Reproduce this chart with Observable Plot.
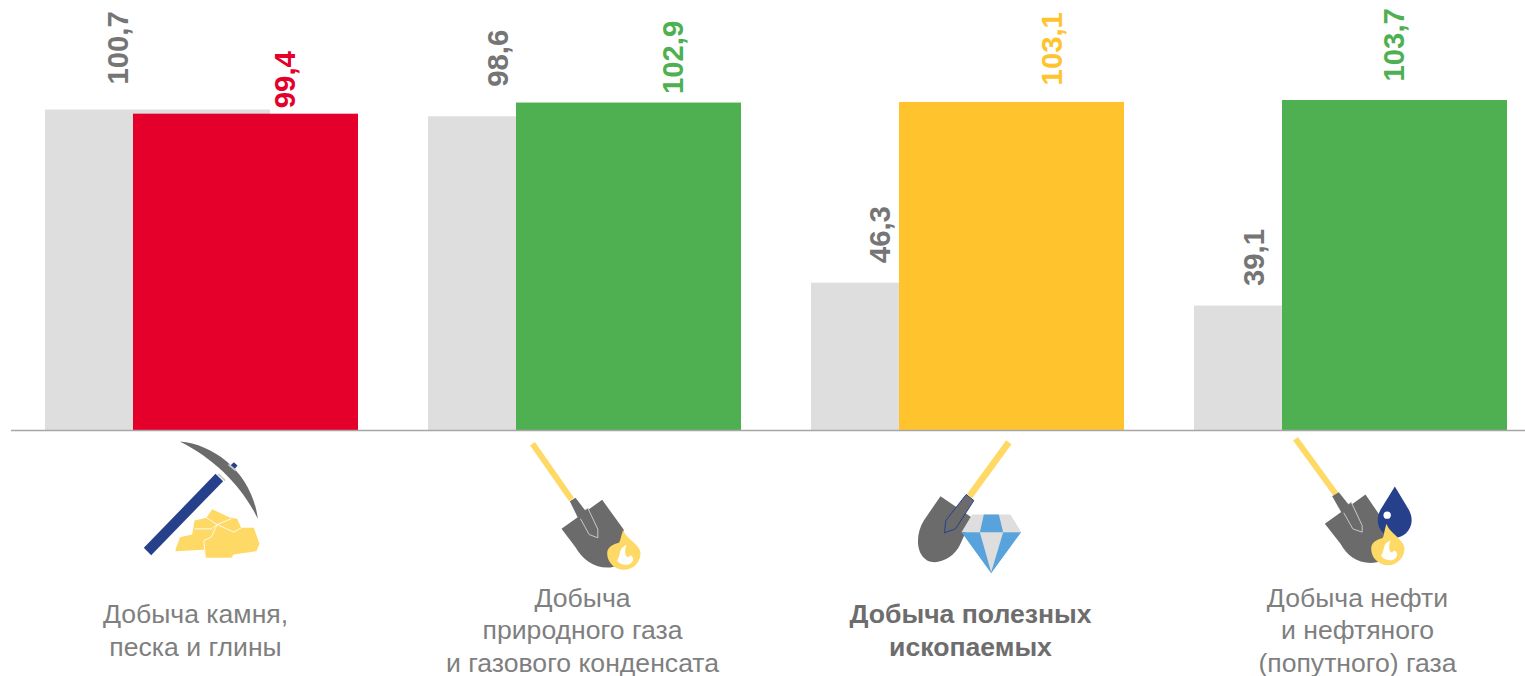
<!DOCTYPE html>
<html lang="ru">
<head>
<meta charset="utf-8">
<style>html,body{margin:0;padding:0;background:#fff}svg{display:block}</style>
<script src="https://cdn.jsdelivr.net/npm/d3@7"></script>
<script src="https://cdn.jsdelivr.net/npm/@observablehq/plot@0.6"></script>
</head>
<body>
<div id="chart"></div>
<script>
const categories = ["Добыча камня,\nпеска и глины","Добыча\nприродного газа\nи газового конденсата","Добыча полезных\nископаемых","Добыча нефти\nи нефтяного\n(попутного) газа"];
const previous = [100.7, 98.6, 46.3, 39.1];
const current = [99.4, 102.9, 103.1, 103.7];
const previousLabels = ["100,7","98,6","46,3","39,1"];
const currentLabels = ["99,4","102,9","103,1","103,7"];

const GRAY="#dedede", RED="#e4002b", GREEN="#4fb052", AMBER="#ffc32e", TXT="#7f7f7f", DARK="#757575";
const currentColors=[RED,GREEN,AMBER,GREEN];
const previousRows=categories.map((c,i)=>({c,v:previous[i],t:previousLabels[i]}));
const currentRows=categories.map((c,i)=>({c,v:current[i],t:currentLabels[i],f:currentColors[i]}));

// hand placement of the reference's labels (horizontal offset from group centre, gap above bar)
const prevNudge=[[-84,25.5],[-87.5,30],[-88.5,20],[-97.5,20]];
const currNudge=[[82.5,6],[87.5,9],[83.5,17],[42.5,19]];
const catDx=[-7.5,-3.5,1.5,5.5];
const iconDx=[-2.5,4.5,11.5,8.5];

const Y="#ffd966",B="#27408b",S="#6b6b6b",W="#fff",L="#58a3db",E="#dedede";
const wrap=(h,body)=>"data:image/svg+xml,"+encodeURIComponent(`<svg xmlns="http://www.w3.org/2000/svg" viewBox="0 0 480 ${h}" width="160" height="${h/3}">${body}</svg>`);
const flame=(cx,cy,r,tx,ty)=>`<path fill="${Y}" d="M${tx} ${ty}C${tx+6} ${ty+25} ${cx+r} ${cy-25} ${cx+r} ${cy}A${r} ${r} 0 1 1 ${cx-r} ${cy}C${cx-r} ${cy-22} ${cx-25} ${cy-28} ${cx-20} ${cy-30}C${cx-10} ${cy-30} ${tx-10} ${ty+30} ${tx} ${ty}Z"/><path fill="${W}" d="M${cx+8} ${cy-25}C${cx-18} ${cy-12} ${cx-8} ${cy+2} ${cx-20} ${cy+22}C${cx-12} ${cy+38} ${cx+22} ${cy+42} ${cx+28} ${cy+20}C${cx+28} ${cy+8} ${cx+18} ${cy+2} ${cx+14} ${cy+12}C${cx+2} ${cy+12} ${cx+2} ${cy-8} ${cx+8} ${cy-25}Z"/>`;
const icons=[
 wrap(420,`<path fill="${B}" d="M70 352L92 374L308 152L285 130Z"/><path fill="${B}" d="M329 106L340 95L351 105L342 116Z"/><path fill="${S}" d="M178 33C285 42 395 130 412 265C365 170 290 90 178 33Z"/><path d="M293 130L314 150M324 102L346 120" stroke="#c8c8c8" stroke-width="5"/><path fill="${Y}" d="M258 262L275 236L330 262L350 265L362 292L400 292L417 340L408 362L340 372L332 382L255 382L250 358L165 362C165 350 175 335 178 320L215 312L222 270Z"/><path fill="none" stroke="${W}" stroke-width="2.5" d="M258 262L290 282L332 265M222 295L272 295L290 282L272 320L250 330L255 382M362 292L340 305L290 282"/>`),
 wrap(450,`<path stroke="${Y}" stroke-width="18" d="M66 40L183 207"/><path fill="${S}" d="M153 295L275 208L340 298L345 400L300 411C250 415 215 385 195 350Z"/>${flame(340,368,50,338,298)}<path fill="${S}" stroke="#c9c9c9" stroke-width="3" d="M203 252L232 233L262 296V322L236 312Z"/><path fill="${S}" d="M178 212L195 202L232 250L205 268Z"/>`),
 wrap(450,`<path stroke="${Y}" stroke-width="20" d="M325 35L207 197"/><path fill="${S}" d="M120 197L215 262L180 340C160 385 110 405 80 390C45 370 45 310 70 270Z"/><path fill="${S}" stroke="${B}" stroke-width="3" d="M197 192L220 210L165 295L132 307L136 270Z"/><path fill="${E}" d="M215 252H330L362 305H183Z"/><path fill="${L}" d="M250 252H295L308 305H238ZM183 305H362L272 428Z"/><path fill="${E}" d="M238 305H308L272 425Z"/>`),
 wrap(450,`<path stroke="${Y}" stroke-width="18" d="M45 25L167 192"/><path fill="${S}" d="M133 280L255 192L315 280V390L280 397C230 400 200 375 180 340Z"/><path fill="${S}" stroke="#c9c9c9" stroke-width="3" d="M183 235L212 215L245 285V305L217 295Z"/><path fill="${S}" d="M155 197L175 185L212 232L185 250Z"/><path fill="${B}" d="M343 168L385 238C410 285 375 322 343 322C311 322 275 285 300 238Z"/><circle cx="320" cy="254" r="11" fill="${W}"/>${flame(322,354,50,318,280)}`)
];
const iconRows=categories.map((c,i)=>({c,src:icons[i]}));

const chart=Plot.plot({
  width:1525,height:676,
  marginLeft:11,marginRight:0,marginTop:0,marginBottom:0,
  style:{background:"#fff",fontFamily:"'Liberation Sans',Arial,sans-serif"},
  x:{type:"band",domain:categories,range:[11,1543],padding:0,axis:null},
  y:{domain:[0,103.7],range:[430,100],axis:null},
  marks:[
    Plot.barY(previousRows,{x:"c",y:"v",fill:GRAY,insetLeft:34,insetRight:124}),
    Plot.barY(currentRows,{x:"c",y:"v",fill:"f",insetLeft:122,insetRight:36}),
    Plot.ruleY([0],{stroke:"#a6a6a6",strokeWidth:1.3}),
    ...previousRows.map((r,i)=>Plot.text([r],{x:"c",y:"v",text:"t",rotate:-90,textAnchor:"start",lineAnchor:"middle",dx:prevNudge[i][0],dy:-prevNudge[i][1],fontSize:29.3,fontWeight:700,fill:DARK})),
    ...currentRows.map((r,i)=>Plot.text([r],{x:"c",y:"v",text:"t",rotate:-90,textAnchor:"start",lineAnchor:"middle",dx:currNudge[i][0],dy:-currNudge[i][1],fontSize:29.3,fontWeight:700,fill:r.f})),
    ...iconRows.map((r,i)=>Plot.image([r],{x:"c",y:()=>0,src:"src",width:160,height:i===0?140:150,dx:iconDx[i],dy:i===0?70:75})),
    ...categories.map((c,i)=>Plot.text([c],{x:d=>d,y:()=>0,text:d=>d,dx:catDx[i],dy:198.5,lineAnchor:"middle",lineHeight:1.225,fontSize:26.6,fontWeight:i===2?700:400,fill:i===2?"#6d6d6d":TXT}))
  ]
});
document.getElementById("chart").append(chart);
</script>
</body>
</html>
